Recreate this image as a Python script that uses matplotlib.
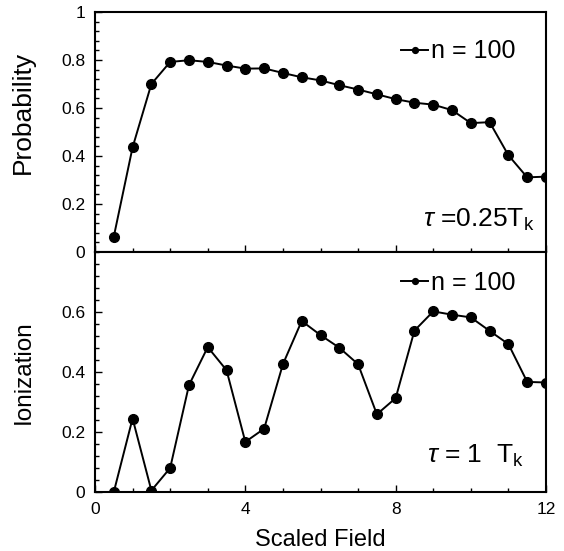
import matplotlib
matplotlib.use("Agg")
import matplotlib.pyplot as plt
from matplotlib.ticker import MultipleLocator, FuncFormatter

plt.rcParams['font.family'] = ['Liberation Sans', 'DejaVu Sans']
plt.rcParams['mathtext.fontset'] = 'custom'
plt.rcParams['mathtext.rm'] = 'Liberation Sans'
plt.rcParams['mathtext.it'] = 'Liberation Sans:italic'

# Data
field = [0.5, 1.0, 1.5, 2.0, 2.5, 3.0, 3.5, 4.0, 4.5, 5.0, 5.5, 6.0,
         6.5, 7.0, 7.5, 8.0, 8.5, 9.0, 9.5, 10.0, 10.5, 11.0, 11.5, 12.0]
prob_short = [0.064, 0.436, 0.700, 0.792, 0.799, 0.792, 0.777, 0.764, 0.765, 0.746, 0.728, 0.715,
              0.695, 0.677, 0.657, 0.637, 0.622, 0.614, 0.591, 0.537, 0.541, 0.403, 0.311, 0.314]
prob_long = [0.000, 0.245, 0.005, 0.080, 0.356, 0.483, 0.406, 0.167, 0.211, 0.426, 0.570, 0.523,
             0.481, 0.426, 0.259, 0.313, 0.538, 0.602, 0.591, 0.582, 0.537, 0.493, 0.367, 0.365]
legend_label = "n = 100"
tau_top = r"$\tau$ =0.25T$_\mathrm{k}$"
tau_bottom = r"$\tau$ = 1  T$_\mathrm{k}$"

W, H = 564, 551
fig = plt.figure(figsize=(W / 100, H / 100), dpi=100)
left, right = 95 / W, 546 / W
ax1 = fig.add_axes([left, 1 - 252 / H, right - left, 240 / H])
ax2 = fig.add_axes([left, 1 - 492 / H, right - left, 240 / H])

fmt = FuncFormatter(lambda v, p: "%g" % round(v, 2))

for ax, y, ymax, tau, tau_x, tau_y, leg_y in [
        (ax1, prob_short, 1.0, tau_top, 0.975, 0.104, 0.836),
        (ax2, prob_long, 0.8, tau_bottom, 0.952, 0.12, 0.87)]:
    ax.plot(field, y, color='black', lw=1.4, marker='o', ms=7,
            mfc='black', mec='black', label=legend_label)
    ax.set_xlim(0, 12)
    ax.set_ylim(0, ymax)
    ax.xaxis.set_major_locator(MultipleLocator(4))
    ax.xaxis.set_minor_locator(MultipleLocator(1))
    ax.yaxis.set_major_locator(MultipleLocator(0.2))
    ax.yaxis.set_minor_locator(MultipleLocator(0.04))
    ax.yaxis.set_major_formatter(fmt)
    ax.xaxis.set_major_formatter(fmt)
    ax.tick_params(axis='both', which='both', direction='in', top=False, right=False,
                   labelsize=12.5, width=1.0)
    ax.tick_params(axis='both', which='major', length=5, pad=7)
    ax.tick_params(axis='both', which='minor', length=3)
    for s in ax.spines.values():
        s.set_linewidth(1.5)
    ax.text(tau_x, tau_y, tau, transform=ax.transAxes, ha='right', va='baseline',
            fontsize=19)
    ax.legend(loc='center right', bbox_to_anchor=(0.933, leg_y), frameon=False,
              fontsize=18, handlelength=1.1, handletextpad=0.12, markerscale=0.6,
              borderpad=0, borderaxespad=0)

ax1.tick_params(axis='x', labelbottom=False)
ax2.set_yticks([0, 0.2, 0.4, 0.6])

ax1.set_ylabel("Probability", fontsize=19)
ax2.set_ylabel("Ionization", fontsize=17.5)
ax2.set_xlabel("Scaled Field", fontsize=17)
ax1.yaxis.set_label_coords(-0.133, 0.58)
ax2.yaxis.set_label_coords(-0.133, 0.50)
ax2.xaxis.set_label_coords(0.5, -0.155)

fig.savefig("out.png", dpi=100)
